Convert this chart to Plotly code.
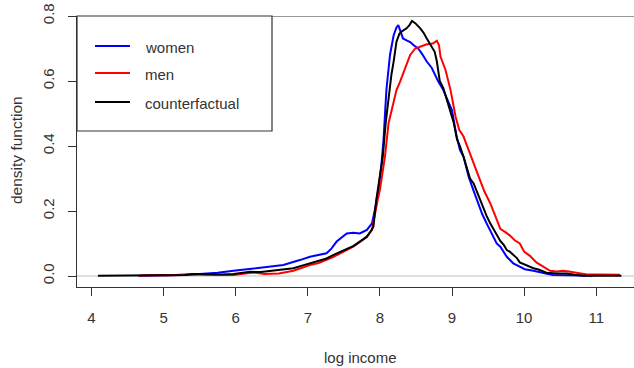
import plotly.graph_objects as go

# ---- data ----
women_x = [4.65, 5.0, 5.3, 5.5, 5.75, 5.97, 6.2, 6.43, 6.66, 6.89, 7.03, 7.26, 7.33, 7.40, 7.54, 7.63,
           7.72, 7.82, 7.89, 7.93, 7.96, 7.98, 8.02, 8.05, 8.09, 8.11, 8.14, 8.19, 8.23, 8.255, 8.28,
           8.32, 8.37, 8.42, 8.47, 8.53, 8.58, 8.65, 8.72, 8.81, 8.88, 8.94, 9.0, 9.065, 9.11, 9.16,
           9.23, 9.30, 9.365, 9.42, 9.48, 9.55, 9.62, 9.67, 9.76, 9.85, 9.94, 10.01, 10.13, 10.22,
           10.3, 10.4, 10.6, 10.8, 10.95]
women_y = [0.001, 0.002, 0.003, 0.006, 0.010, 0.016, 0.022, 0.029, 0.034, 0.049, 0.059, 0.070, 0.085,
           0.106, 0.131, 0.133, 0.131, 0.142, 0.162, 0.203, 0.234, 0.265, 0.34, 0.418, 0.572, 0.62,
           0.68, 0.74, 0.765, 0.772, 0.755, 0.731, 0.725, 0.72, 0.71, 0.70, 0.685, 0.66, 0.64, 0.598,
           0.572, 0.54, 0.51, 0.429, 0.388, 0.367, 0.306, 0.262, 0.224, 0.19, 0.162, 0.13, 0.10, 0.09,
           0.059, 0.039, 0.029, 0.021, 0.016, 0.013, 0.008, 0.003, 0.002, 0.002, 0.001]

men_x = [4.67, 4.9, 5.1, 5.4, 5.6, 5.8, 5.97, 6.1, 6.25, 6.4, 6.6, 6.8, 6.9, 7.03, 7.15, 7.26, 7.35,
         7.45, 7.55, 7.63, 7.72, 7.82, 7.89, 7.93, 7.97, 8.0, 8.07, 8.12, 8.19, 8.23, 8.28, 8.35, 8.42,
         8.49, 8.56, 8.65, 8.70, 8.74, 8.79, 8.82, 8.84, 8.91, 8.98, 9.05, 9.10, 9.16, 9.23, 9.28,
         9.37, 9.45, 9.53, 9.60, 9.67, 9.74, 9.80, 9.87, 9.94, 10.0, 10.08, 10.17, 10.25, 10.36,
         10.45, 10.54, 10.62, 10.68, 10.8, 10.87, 11.05, 11.33]
men_y = [0.001, 0.003, 0.002, 0.006, 0.004, 0.004, 0.003, 0.007, 0.011, 0.006, 0.008, 0.016, 0.024,
         0.034, 0.040, 0.049, 0.058, 0.070, 0.080, 0.090, 0.104, 0.121, 0.142, 0.193, 0.235, 0.265,
         0.367, 0.47, 0.54, 0.572, 0.598, 0.639, 0.68, 0.70, 0.706, 0.713, 0.714, 0.716, 0.724, 0.71,
         0.675, 0.634, 0.572, 0.49, 0.45, 0.429, 0.388, 0.357, 0.306, 0.26, 0.224, 0.185, 0.145,
         0.135, 0.125, 0.11, 0.10, 0.075, 0.062, 0.042, 0.03, 0.016, 0.014, 0.016, 0.014, 0.012,
         0.006, 0.005, 0.005, 0.004]

cf_x = [4.09, 4.5, 5.0, 5.3, 5.4, 5.6, 5.8, 5.97, 6.1, 6.2, 6.35, 6.52, 6.65, 6.80, 6.92, 7.03, 7.15,
        7.26, 7.35, 7.45, 7.55, 7.63, 7.72, 7.82, 7.88, 7.91, 7.95, 7.97, 8.04, 8.08, 8.13, 8.16,
        8.19, 8.23, 8.27, 8.30, 8.37, 8.41, 8.445, 8.49, 8.56, 8.61, 8.65, 8.72, 8.76, 8.79, 8.83,
        8.88, 8.93, 8.98, 9.02, 9.07, 9.11, 9.16, 9.20, 9.25, 9.30, 9.36, 9.43, 9.48, 9.53, 9.60,
        9.67, 9.72, 9.76, 9.80, 9.85, 9.90, 9.94, 10.04, 10.13, 10.2, 10.31, 10.45, 10.59, 10.7,
        10.82, 11.35]
cf_y = [0.001, 0.001, 0.002, 0.003, 0.006, 0.005, 0.005, 0.006, 0.010, 0.013, 0.012, 0.016, 0.020,
        0.024, 0.032, 0.039, 0.046, 0.054, 0.064, 0.075, 0.084, 0.092, 0.105, 0.121, 0.14, 0.152,
        0.234, 0.265, 0.367, 0.47, 0.572, 0.62, 0.659, 0.721, 0.745, 0.752, 0.762, 0.772, 0.785,
        0.778, 0.762, 0.747, 0.731, 0.705, 0.69, 0.66, 0.60, 0.578, 0.54, 0.50, 0.475, 0.42, 0.40,
        0.367, 0.336, 0.300, 0.285, 0.25, 0.213, 0.185, 0.162, 0.135, 0.108, 0.095, 0.080, 0.075,
        0.065, 0.055, 0.042, 0.032, 0.024, 0.020, 0.010, 0.008, 0.008, 0.004, 0.001, 0.001]

x_ticks = [4, 5, 6, 7, 8, 9, 10, 11]
y_ticks = [0.0, 0.2, 0.4, 0.6, 0.8]
y_tick_text = ["0.0", "0.2", "0.4", "0.6", "0.8"]
legend_names = ["women", "men", "counterfactual"]
legend_colors = ["#0000FF", "#FF0000", "#000000"]

# ---- layout geometry (pixels) ----
W, H = 634, 368
L, R, T, B = 77, 0, 16, 81
PW, PH = W - L - R, H - T - B
FONT = "Liberation Sans, Arial, sans-serif"
TXT = "#333333"


def px(xp):
    return (xp - L) / PW


def py(yp):
    return (H - B - yp) / PH


fig = go.Figure()
for xs, ys, name, col in zip([women_x, men_x, cf_x], [women_y, men_y, cf_y], legend_names, legend_colors):
    fig.add_trace(go.Scatter(x=xs, y=ys, mode="lines", name=name,
                             line=dict(color=col, width=2), showlegend=False))

shapes = [
    # horizontal zero reference line
    dict(type="line", xref="paper", yref="y", x0=0, x1=1, y0=0, y1=0,
         line=dict(color="#BEBEBE", width=1), layer="below"),
    # top line
    dict(type="line", xref="paper", yref="y", x0=0, x1=1, y0=0.8, y1=0.8,
         line=dict(color="#333333", width=1.2)),
    # legend box
    dict(type="rect", xref="paper", yref="paper", x0=0, x1=px(272), y0=py(131), y1=1,
         line=dict(color="#333333", width=1.2), fillcolor="rgba(255,255,255,1)"),
]
annotations = []
legend_rows = [46, 73, 102]
for yrow, name, col in zip(legend_rows, legend_names, legend_colors):
    shapes.append(dict(type="line", xref="paper", yref="paper", x0=px(95), x1=px(130),
                       y0=py(yrow), y1=py(yrow), line=dict(color=col, width=2)))
    annotations.append(dict(text=name, xref="paper", yref="paper", x=px(143), y=py(yrow + 1),
                            xanchor="left", yanchor="middle", showarrow=False,
                            font=dict(family=FONT, size=15, color=TXT)))

annotations.append(dict(text="log income", xref="paper", yref="paper", x=px(360), y=py(357),
                        xanchor="center", yanchor="middle", showarrow=False,
                        font=dict(family=FONT, size=15, color=TXT)))
annotations.append(dict(text="density function", xref="paper", yref="paper", x=px(16), y=py(150),
                        xanchor="center", yanchor="middle", textangle=-90, showarrow=False,
                        font=dict(family=FONT, size=15.5, color=TXT)))

fig.update_layout(
    width=W, height=H,
    margin=dict(l=L, r=R, t=T, b=B),
    plot_bgcolor="white", paper_bgcolor="white",
    shapes=shapes, annotations=annotations,
    xaxis=dict(range=[4 - (91.5 - L) / 72.1, 4 + (W - 91.5) / 72.1],
               tickvals=x_ticks, ticktext=[str(v) for v in x_ticks],
               showgrid=False, zeroline=False, showline=True, linecolor="#333333", linewidth=1.2,
               ticks="outside", ticklen=8, tickcolor="#333333", tickwidth=1.2,
               ticklabelstandoff=9,
               tickfont=dict(family=FONT, size=15, color=TXT)),
    yaxis=dict(range=[0.8 - (H - B - T) / 325.0, 0.8],
               tickvals=y_ticks, ticktext=y_tick_text, tickangle=-90,
               showgrid=False, zeroline=False, showline=True, linecolor="#333333", linewidth=1.2,
               ticks="outside", ticklen=8, tickcolor="#333333", tickwidth=1.2,
               ticklabelstandoff=8,
               tickfont=dict(family=FONT, size=15, color=TXT)),
)

fig.write_html("out.html")
